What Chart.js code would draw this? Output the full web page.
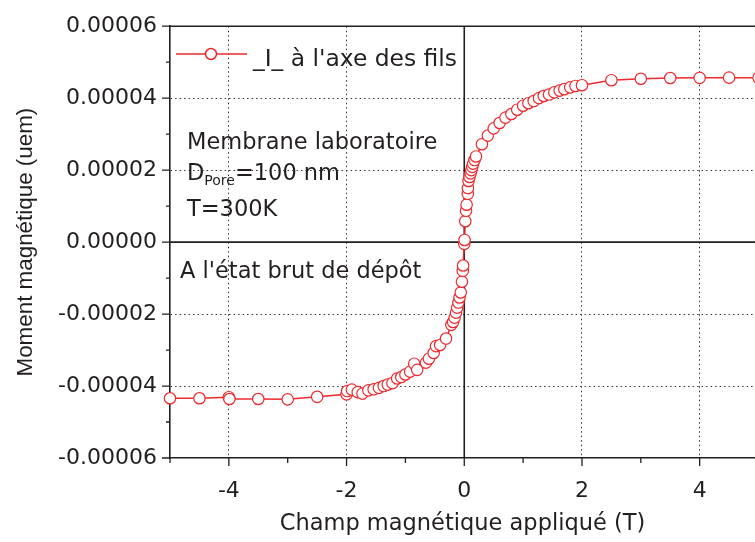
<!DOCTYPE html>
<html lang="fr">
<head>
<meta charset="UTF-8">
<title>Moment magnétique - membrane laboratoire</title>
<script src="https://cdn.jsdelivr.net/npm/chart.js"></script>
<style>
  html, body { margin: 0; padding: 0; background: #fff; }
  #wrap { width: 755px; height: 542px; }
</style>
</head>
<body>
<div id="wrap"><canvas id="mhChart" width="755" height="542"></canvas></div>
<script>
const fieldT = [
  -5.0, -4.5, -4.0, -3.99, -3.5, -3.0, -2.5, -2.0, -1.99, -1.91, -1.81, -1.73,
  -1.63, -1.54, -1.45, -1.37, -1.30, -1.22, -1.14, -1.07, -1.00, -0.92, -0.85,
  -0.80, -0.65, -0.60, -0.52, -0.48, -0.41, -0.31, -0.22, -0.19, -0.165, -0.14,
  -0.12, -0.10, -0.08, -0.06, -0.04, -0.025, -0.02, 0.0,
  0.005, 0.017, 0.03, 0.04, 0.06, 0.062, 0.073, 0.09, 0.107, 0.12, 0.136, 0.15,
  0.175, 0.20, 0.30, 0.40, 0.50, 0.60, 0.70, 0.80, 0.90, 1.00, 1.09, 1.18, 1.27,
  1.35, 1.44, 1.53, 1.62, 1.70, 1.80, 1.89, 2.0, 2.5, 3.0, 3.5, 4.0, 4.5, 5.0
];
const momentUem = [
  -4.34e-5, -4.34e-5, -4.31e-5, -4.36e-5, -4.36e-5, -4.37e-5, -4.30e-5, -4.23e-5,
  -4.14e-5, -4.10e-5, -4.17e-5, -4.21e-5, -4.12e-5, -4.09e-5, -4.05e-5, -4.00e-5,
  -3.96e-5, -3.92e-5, -3.79e-5, -3.75e-5, -3.68e-5, -3.60e-5, -3.38e-5, -3.55e-5,
  -3.35e-5, -3.24e-5, -3.08e-5, -2.89e-5, -2.86e-5, -2.68e-5, -2.30e-5, -2.22e-5,
  -2.10e-5, -1.96e-5, -1.82e-5, -1.68e-5, -1.54e-5, -1.40e-5, -1.10e-5, -0.80e-5,
  -0.65e-5, -0.05e-5,
  0.06e-5, 0.58e-5, 0.87e-5, 1.04e-5, 1.34e-5, 1.50e-5, 1.70e-5, 1.81e-5, 1.91e-5,
  2.00e-5, 2.09e-5, 2.18e-5, 2.28e-5, 2.38e-5, 2.72e-5, 2.96e-5, 3.16e-5, 3.31e-5,
  3.46e-5, 3.56e-5, 3.68e-5, 3.79e-5, 3.86e-5, 3.92e-5, 4.00e-5, 4.06e-5, 4.10e-5,
  4.16e-5, 4.21e-5, 4.25e-5, 4.30e-5, 4.34e-5, 4.36e-5, 4.50e-5, 4.54e-5, 4.56e-5,
  4.565e-5, 4.57e-5, 4.57e-5
];

const xTicks = [-4, -2, 0, 2, 4];
const xMinorTicks = [-5, -3, -1, 1, 3];
const yTicks = [-0.00006, -0.00004, -0.00002, 0, 0.00002, 0.00004, 0.00006];
const yMinorTicks = [-0.00005, -0.00003, -0.00001, 0.00001, 0.00003, 0.00005];

const seriesLabel = "_I_ à l'axe des fils";
const xTitle = 'Champ magnétique appliqué (T)';
const yTitle = 'Moment magnétique (uem)';

const red = '#ee2a2e';
const ink = '#231f20';
const textFont = '22.5px "DejaVu Sans"';

const decor = {
  id: 'decor',
  beforeDatasetsDraw(chart) {
    const { ctx, chartArea: a, scales: { x, y } } = chart;
    ctx.save();
    ctx.strokeStyle = ink;
    ctx.lineWidth = 1.6;
    const x0 = x.getPixelForValue(0);
    const y0 = y.getPixelForValue(0);
    ctx.beginPath();
    ctx.moveTo(x0, a.top); ctx.lineTo(x0, a.bottom);
    ctx.moveTo(a.left, y0); ctx.lineTo(a.right, y0);
    ctx.stroke();
    ctx.restore();
  },
  afterDraw(chart) {
    const { ctx, chartArea: a, scales: { x, y } } = chart;
    ctx.save();
    ctx.strokeStyle = ink;
    ctx.lineWidth = 1.6;
    ctx.beginPath();
    ctx.moveTo(a.left, a.top); ctx.lineTo(a.right, a.top);
    ctx.stroke();

    // tick marks, outside
    ctx.lineWidth = 1.3;
    ctx.beginPath();
    yTicks.forEach(v => { const p = y.getPixelForValue(v); ctx.moveTo(a.left - 8, p); ctx.lineTo(a.left, p); });
    yMinorTicks.forEach(v => { const p = y.getPixelForValue(v); ctx.moveTo(a.left - 4, p); ctx.lineTo(a.left, p); });
    xTicks.forEach(v => { const p = x.getPixelForValue(v); ctx.moveTo(p, a.bottom); ctx.lineTo(p, a.bottom + 8); });
    xMinorTicks.forEach(v => { const p = x.getPixelForValue(v); ctx.moveTo(p, a.bottom); ctx.lineTo(p, a.bottom + 5); });
    ctx.stroke();

    // legend
    const ly = 54;
    ctx.strokeStyle = red;
    ctx.lineWidth = 1.5;
    ctx.beginPath(); ctx.moveTo(176, ly); ctx.lineTo(247, ly); ctx.stroke();
    ctx.fillStyle = '#fff';
    ctx.beginPath(); ctx.arc(211, ly, 5.5, 0, Math.PI * 2); ctx.fill(); ctx.stroke();

    ctx.fillStyle = ink;
    ctx.font = '23.4px "DejaVu Sans"';
    ctx.textBaseline = 'alphabetic';
    ctx.textAlign = 'left';
    ctx.fillText(chart.data.datasets[0].label, 253, 66);

    // notes
    ctx.font = textFont;
    ctx.fillText('Membrane laboratoire', 187, 149);
    ctx.fillText('D', 187, 180);
    let dx = 187 + ctx.measureText('D').width;
    ctx.font = '14px "DejaVu Sans"';
    ctx.fillText('Pore', dx, 185);
    dx += ctx.measureText('Pore').width;
    ctx.font = textFont;
    ctx.fillText('=100 nm', dx, 180);
    ctx.fillText('T=300K', 187, 216);
    ctx.fillText("A l'état brut de dépôt", 180, 278);
    ctx.restore();
  }
};

const ctx = document.getElementById('mhChart').getContext('2d');
new Chart(ctx, {
  type: 'scatter',
  data: {
    datasets: [{
      label: seriesLabel,
      data: fieldT.map((f, i) => ({ x: f, y: momentUem[i] })),
      showLine: true,
      borderColor: red,
      borderWidth: 1.5,
      pointRadius: 5.7,
      pointBorderWidth: 1.2,
      pointBorderColor: red,
      pointBackgroundColor: '#fff',
      tension: 0,
      clip: false
    }]
  },
  options: {
    responsive: false,
    animation: false,
    events: [],
    layout: { autoPadding: false, padding: { top: 25, right: 0, left: 0, bottom: 0 } },
    plugins: { legend: { display: false }, tooltip: { enabled: false } },
    scales: {
      x: {
        type: 'linear',
        min: -5,
        max: 4.94,
        afterBuildTicks: s => { s.ticks = xTicks.map(v => ({ value: v })); },
        afterFit: s => { s.height = 84; },
        grid: {
          drawTicks: false,
          color: c => (c.tick && c.tick.value !== 0) ? '#333' : 'transparent',
          lineWidth: 1
        },
        border: { display: true, color: ink, width: 1.6, dash: [1.5, 3] },
        ticks: {
          padding: 20,
          color: ink,
          font: { family: 'DejaVu Sans', size: 22 },
          callback: v => String(v)
        },
        title: {
          display: true,
          text: xTitle,
          color: ink,
          font: { family: 'DejaVu Sans', size: 22.5 },
          padding: { top: 4, bottom: 4 }
        }
      },
      y: {
        type: 'linear',
        min: -0.00006,
        max: 0.00006,
        afterBuildTicks: s => { s.ticks = yTicks.map(v => ({ value: v })); },
        afterFit: s => { s.width = 170; },
        grid: {
          drawTicks: false,
          color: c => (c.tick && c.tick.value !== 0 && Math.abs(c.tick.value) < 0.00005) ? '#333' : 'transparent',
          lineWidth: 1
        },
        border: { display: true, color: ink, width: 1.6, dash: [1.5, 3] },
        ticks: {
          padding: 13,
          color: ink,
          font: { family: 'DejaVu Sans', size: 22 },
          callback: v => Number(v).toFixed(5)
        },
        title: {
          display: true,
          text: yTitle,
          color: ink,
          font: { family: 'Liberation Sans', size: 22.4 },
          padding: { top: 12, bottom: 4 }
        }
      }
    }
  },
  plugins: [decor]
});
</script>
</body>
</html>
